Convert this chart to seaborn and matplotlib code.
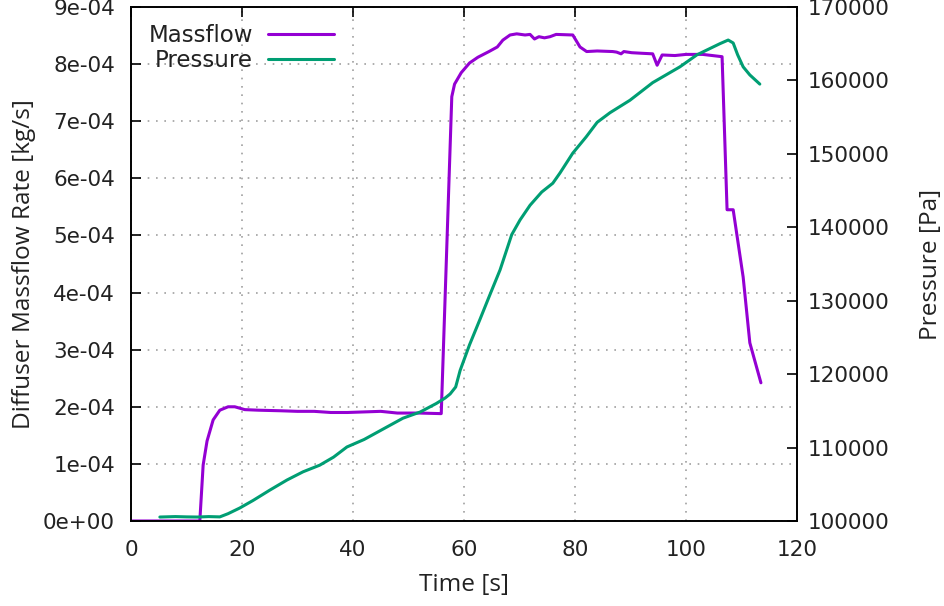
import numpy as np
import pandas as pd
import matplotlib
matplotlib.use("Agg")
import matplotlib.pyplot as plt
import seaborn as sns

# ---- data ----
mass_t = [0, 5, 10, 12.4, 13.0, 13.7, 14.8, 16.0, 17.5, 18.7, 20.5, 23, 27, 30, 33, 36, 39, 42, 45, 48, 52, 55.9,
          57.8, 58.3, 59.5, 61.0, 62.5, 64.5, 66.0, 67.0, 68.3, 69.5, 71.0, 71.9, 72.7, 73.5, 74.5, 75.5, 76.6,
          79.6, 80.9, 82.1, 84.0, 86.8, 87.5, 88.3, 88.8, 90.2, 92.0, 94.0, 94.8, 95.7, 98.0, 100.0, 103.0,
          106.5, 107.4, 108.5, 110.3, 111.5, 113.5]
mass_v = [0, 0, 0, 0, 0.98, 1.40, 1.77, 1.94, 2.00, 2.00, 1.95, 1.94, 1.93, 1.92, 1.92, 1.90, 1.90, 1.91, 1.92, 1.89, 1.89, 1.88,
          7.43, 7.65, 7.85, 8.02, 8.12, 8.22, 8.30, 8.42, 8.51, 8.53, 8.51, 8.52, 8.44, 8.48, 8.46, 8.48, 8.52,
          8.51, 8.30, 8.22, 8.23, 8.22, 8.21, 8.18, 8.22, 8.20, 8.19, 8.18, 7.98, 8.16, 8.15, 8.17, 8.17,
          8.13, 5.45, 5.45, 4.27, 3.12, 2.42]
mass_v = [v * 1e-4 for v in mass_v]

pres_t = [5.2, 8, 10, 12, 14, 16, 17.5, 19.6, 22, 25, 28.1, 31, 34, 36.5, 38.9, 42, 46.1, 49, 52.1, 55, 56.6,
          57.5, 58.5, 59.3, 61.0, 62.9, 64.5, 66.5, 68.6, 70.1, 71.9, 74, 76, 77.3, 79.6, 82, 84, 86.3, 89.9,
          94, 98.9, 102, 106.1, 107.6, 108.5, 109.3, 110.3, 111.5, 113.3]
pres_v = [100540, 100600, 100560, 100540, 100600, 100560, 101000, 101770, 102800, 104200, 105580, 106700, 107600,
          108700, 110080, 111100, 112800, 114000, 114840, 116000, 116750, 117300, 118250, 120500, 124000, 127500,
          130500, 134200, 139000, 141000, 143000, 144800, 146000, 147400, 150100, 152300, 154300, 155600, 157300,
          159700, 161850, 163500, 165000, 165500, 165100, 163500, 161850, 160750, 159500]

x_ticks = [0, 20, 40, 60, 80, 100, 120]
left_ticks = [0, 1e-4, 2e-4, 3e-4, 4e-4, 5e-4, 6e-4, 7e-4, 8e-4, 9e-4]
left_labels = ["0e+00", "1e-04", "2e-04", "3e-04", "4e-04", "5e-04", "6e-04", "7e-04", "8e-04", "9e-04"]
right_ticks = [100000, 110000, 120000, 130000, 140000, 150000, 160000, 170000]

mass_df = pd.DataFrame({"t": mass_t, "v": mass_v})
pres_df = pd.DataFrame({"t": pres_t, "v": pres_v})

sns.set_theme(style="white")
plt.rcParams['font.family'] = ['DejaVu Sans']

fig = plt.figure(figsize=(9.44, 6.06), dpi=100)
ax = fig.add_axes([131/944, 1 - 521/606, (797-131)/944, (521-7)/606])
ax2 = ax.twinx()

purple = "#9400d3"
green = "#009e73"

sns.lineplot(data=mass_df, x="t", y="v", ax=ax, color=purple, lw=2.2, estimator=None, sort=False, label="Massflow", legend=False)
sns.lineplot(data=pres_df, x="t", y="v", ax=ax2, color=green, lw=2.2, estimator=None, sort=False, label="Pressure", legend=False)

ax.set_xlim(0, 120)
ax.set_ylim(0, 9e-4)
ax2.set_ylim(100000, 170000)
ax.set_xticks(x_ticks)
ax.set_yticks(left_ticks)
ax.set_yticklabels(left_labels)
ax2.set_yticks(right_ticks)
ax2.set_yticklabels([str(v) for v in right_ticks])

tick_fs = 15.5
ax.tick_params(axis="y", direction="in", length=7, width=1.2, color="black", labelsize=tick_fs, labelcolor="#222222", pad=11.5)
ax.tick_params(axis="x", direction="in", length=7, width=1.2, color="black", labelsize=tick_fs, labelcolor="#222222", top=True, pad=14)
ax2.tick_params(axis="y", direction="in", length=7, width=1.2, color="black", labelsize=tick_fs, labelcolor="#222222", pad=8)

ax.grid(True, linestyle=(0, (1, 4)), color="#a0a0a0", lw=1.2)
ax2.grid(False)
for a in (ax, ax2):
    for s in a.spines.values():
        s.set_color("black")
        s.set_linewidth(1.2)

lab_font = dict(family="Open Sans", fontsize=17.6, color="#222222")
ax.set_xlabel("Time [s]", labelpad=9, **lab_font)
ax.set_ylabel("Diffuser Massflow Rate [kg/s]", labelpad=5, **lab_font)
ax2.set_ylabel("Pressure [Pa]", labelpad=21, **lab_font)

h1, l1 = ax.get_legend_handles_labels()
h2, l2 = ax2.get_legend_handles_labels()
leg = ax.legend(h1 + h2, l1 + l2, loc="upper right", frameon=False, markerfirst=False,
                fontsize=16.5, handlelength=2.88, handletextpad=0.65, labelspacing=0.08,
                borderaxespad=0, borderpad=0, bbox_to_anchor=(0.305, 0.966))
for t in leg.get_texts():
    t.set_color("#222222")

fig.savefig("out.png", dpi=100)
